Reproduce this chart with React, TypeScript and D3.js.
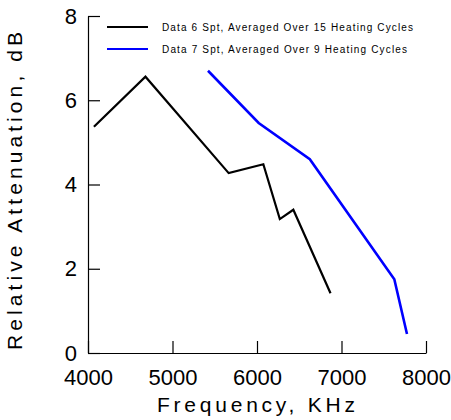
import React, { useEffect, useRef } from 'react'
import * as d3 from 'd3'

// Data 6 Spt, averaged over 15 heating cycles
const freq6 = [4070, 4680, 5665, 6075, 6270, 6430, 6870]
const atten6 = [5.37, 6.56, 4.27, 4.48, 3.18, 3.40, 1.42]

// Data 7 Spt, averaged over 9 heating cycles
const freq7 = [5420, 6020, 6625, 7625, 7775]
const atten7 = [6.70, 5.46, 4.60, 1.75, 0.45]

const seriesNames = [
  'Data 6 Spt, Averaged Over 15 Heating Cycles',
  'Data 7 Spt, Averaged Over 9 Heating Cycles',
]
const seriesColors = ['#000000', '#0000ff']

const xTicks = [4000, 5000, 6000, 7000, 8000]
const yTicks = [0, 2, 4, 6, 8]

const FONT = "Arial, 'Liberation Sans', sans-serif"

const App = () => {
  const svgRef = useRef<SVGSVGElement>(null)
  const width = 451
  const height = 420
  const margin = { top: 16, right: 25, bottom: 67, left: 88 }

  useEffect(() => {
    const svg = d3.select(svgRef.current)
    svg.selectAll('*').remove()

    const x = d3.scaleLinear().domain([4000, 8000]).range([margin.left, width - margin.right])
    const y = d3.scaleLinear().domain([0, 8]).range([height - margin.bottom, margin.top])

    // x axis, ticks pointing inward
    const gx = svg.append('g')
      .attr('transform', `translate(0,${height - margin.bottom})`)
      .call(d3.axisBottom(x).tickValues(xTicks).tickFormat(d3.format('d')).tickSize(-12).tickSizeOuter(0).tickPadding(16))
    gx.selectAll('text').attr('font-size', 22).attr('font-family', FONT).attr('fill', '#000')

    const gy = svg.append('g')
      .attr('transform', `translate(${margin.left},0)`)
      .call(d3.axisLeft(y).tickValues(yTicks).tickFormat(d3.format('d')).tickSize(-12).tickSizeOuter(0).tickPadding(11))
    gy.selectAll('text').attr('font-size', 22).attr('font-family', FONT).attr('fill', '#000')

    svg.selectAll('.domain, .tick line').attr('stroke', '#000').attr('stroke-width', 1.2)

    // axis titles
    svg.append('text')
      .text('Frequency, KHz')
      .attr('x', 256)
      .attr('y', 412)
      .attr('text-anchor', 'middle')
      .attr('font-size', 21)
      .attr('font-family', FONT)
      .attr('textLength', 198)
      .attr('lengthAdjust', 'spacing')

    svg.append('text')
      .text('Relative Attenuation, dB')
      .attr('transform', 'translate(22,191) rotate(-90)')
      .attr('text-anchor', 'middle')
      .attr('font-size', 21)
      .attr('font-family', FONT)
      .attr('textLength', 318)
      .attr('lengthAdjust', 'spacing')

    const line = d3.line<[number, number]>()
      .x(d => x(d[0]))
      .y(d => y(d[1]))

    const series = [
      d3.zip(freq6, atten6) as [number, number][],
      d3.zip(freq7, atten7) as [number, number][],
    ]

    series.forEach((pts, i) => {
      svg.append('path')
        .datum(pts)
        .attr('d', line)
        .attr('fill', 'none')
        .attr('stroke', seriesColors[i])
        .attr('stroke-width', i === 0 ? 2.2 : 2.6)
        .attr('stroke-linejoin', 'miter')
    })

    // legend
    const legend = svg.append('g')
    seriesNames.forEach((name, i) => {
      const ly = 27 + i * 22
      legend.append('line')
        .attr('x1', 107).attr('x2', 148)
        .attr('y1', ly).attr('y2', ly)
        .attr('stroke', seriesColors[i])
        .attr('stroke-width', 2)
      legend.append('text')
        .text(name)
        .attr('x', 162)
        .attr('y', ly + 3.5)
        .attr('font-size', 10)
        .attr('font-family', FONT)
        .attr('textLength', i === 0 ? 251 : 245)
        .attr('lengthAdjust', 'spacing')
    })
  }, [])

  return (
    <svg ref={svgRef} width={width} height={height}
      style={{ position: 'absolute', left: 0, top: 0, background: '#fff' }} />
  )
}

export default App
